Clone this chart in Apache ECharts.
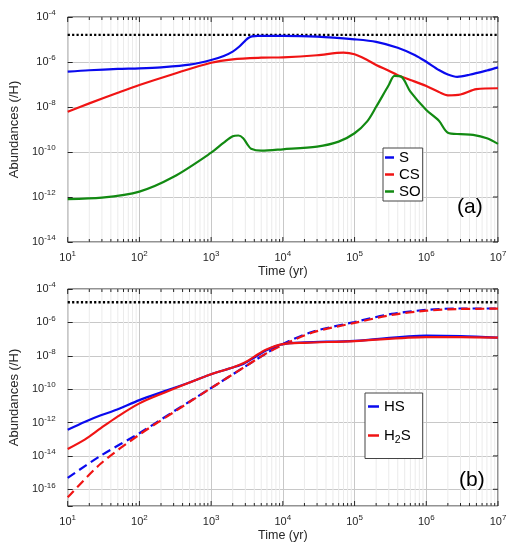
<!DOCTYPE html>
<html><head><meta charset="utf-8">
<script src="https://cdn.jsdelivr.net/npm/echarts@6/dist/echarts.min.js"></script>
<style>html,body{margin:0;padding:0;background:#fff}#c{width:510px;height:543px}</style>
</head><body><div id="c"></div>
<script>
// ---------- data (time in yr, abundances relative to H) ----------
const timeS  = [10, 20, 50, 100, 200, 500, 1000, 1500, 2000, 2500, 3000, 3300, 3700, 4500, 1e4, 3e4, 1e5, 2e5, 4e5, 7e5, 1e6, 1.5e6, 2e6, 2.7e6, 4e6, 7e6, 1e7];
const abundS = [3.7e-7, 4.3e-7, 4.9e-7, 5.2e-7, 5.8e-7, 7.6e-7, 1.23e-6, 1.86e-6, 2.9e-6, 5.0e-6, 8.9e-6, 1.17e-5, 1.38e-5, 1.45e-5, 1.45e-5, 1.35e-5, 1.02e-5, 7.9e-6, 4.3e-6, 2.0e-6, 1.02e-6, 4.4e-7, 2.8e-7, 2.2e-7, 2.7e-7, 4.2e-7, 5.8e-7];

const timeCS  = [10, 20, 50, 100, 300, 1000, 2000, 5000, 1e4, 3e4, 7e4, 1e5, 1.5e5, 2e5, 3e5, 4e5, 6e5, 1e6, 1.5e6, 2e6, 3e6, 5e6, 1e7];
const abundCS = [6.2e-9, 1.45e-8, 4.3e-8, 9.5e-8, 2.95e-7, 9.3e-7, 1.32e-6, 1.55e-6, 1.62e-6, 2.0e-6, 2.6e-6, 2.2e-6, 1.23e-6, 7.4e-7, 4.1e-7, 2.6e-7, 1.6e-7, 8.5e-8, 4.6e-8, 3.3e-8, 3.6e-8, 6.2e-8, 6.8e-8];

const timeSO  = [10, 30, 100, 300, 1000, 1500, 2000, 2400, 2800, 3200, 3600, 5000, 1e4, 3e4, 6e4, 1e5, 1.5e5, 2e5, 3e5, 3.6e5, 4.5e5, 6e5, 1e6, 1.5e6, 2e6, 3e6, 4.5e6, 7e6, 1e7];
const abundSO = [8.1e-13, 9.3e-13, 1.74e-12, 7.9e-12, 9.3e-11, 2.6e-10, 5.0e-10, 5.4e-10, 4.1e-10, 2.2e-10, 1.41e-10, 1.15e-10, 1.32e-10, 1.74e-10, 2.9e-10, 6.8e-10, 2.3e-9, 1.02e-8, 9.5e-8, 2.4e-7, 2.2e-7, 4.8e-8, 7.4e-9, 2.45e-9, 7.2e-10, 6.2e-10, 5.8e-10, 4.1e-10, 2.3e-10];

const timeHS  = [10, 17.5, 29, 49, 100, 226, 500, 1000, 2000, 2900, 4000, 5800, 1e4, 2e4, 1e5, 1e6, 3e6, 1e7];
const abundHS = [3.7e-13, 1.12e-12, 2.7e-12, 6.0e-12, 2.2e-11, 7.6e-11, 2.5e-10, 7.9e-10, 2.0e-9, 3.5e-9, 7.9e-9, 2.1e-8, 5.0e-8, 6.3e-8, 7.9e-8, 1.6e-7, 1.5e-7, 1.23e-7];

const timeH2S  = [10, 17.5, 29, 49, 100, 226, 500, 1000, 2000, 2900, 4000, 5800, 1e4, 2e4, 1e5, 1e6, 3e6, 1e7];
const abundH2S = [2.6e-14, 9.8e-14, 4.6e-13, 2.2e-12, 1.41e-11, 6.3e-11, 2.5e-10, 7.9e-10, 2.0e-9, 3.8e-9, 8.9e-9, 2.3e-8, 5.0e-8, 6.0e-8, 7.6e-8, 1.32e-7, 1.32e-7, 1.23e-7];

const timeHSice  = [10, 29, 100, 300, 1000, 2900, 5800, 1e4, 2.6e4, 1e5, 3.3e5, 1e6, 2.7e6, 1e7];
const abundHSice = [4.8e-16, 1.05e-14, 2.3e-13, 4.6e-12, 1.17e-10, 2.1e-9, 1.35e-8, 5.1e-8, 2.75e-7, 1.05e-6, 3.2e-6, 5.6e-6, 6.8e-6, 6.8e-6];

const timeH2Sice  = [10, 29, 100, 300, 1000, 2900, 5800, 1e4, 2.6e4, 1e5, 3.3e5, 1e6, 2.7e6, 1e7];
const abundH2Sice = [3.3e-17, 3.5e-15, 1.9e-13, 4.1e-12, 1.17e-10, 2.1e-9, 1.35e-8, 4.5e-8, 2.5e-7, 9.3e-7, 2.8e-6, 5.0e-6, 6.3e-6, 6.6e-6];

const totalSulfur = 1.6e-5;
const timeRange = [10, 1e7];
const xTickExps = [1, 2, 3, 4, 5, 6, 7];
const yRangeA = [-14, -4];
const yRangeB = [-17, -4];
const yTickExpsA = [-14, -12, -10, -8, -6, -4];
const yTickExpsB = [-16, -14, -12, -10, -8, -6, -4];
const legendA = ['S', 'CS', 'SO'];
const legendB = ['HS', 'H2S'];

// ---------- helpers ----------
const FONT = 'Liberation Sans';
const AX = '#262626';
const BLUE = '#0a0aee', RED = '#f01414', GREEN = '#128a12';
const lg = Math.log10;
const pts = (t, a) => t.map((v, i) => [lg(v), lg(a[i])]);

const supRich = {
  b: { fontSize: 11, color: AX, fontFamily: FONT },
  s: { fontSize: 8, color: AX, fontFamily: FONT, padding: [0, 0, 8, 0] }
};
const expLabel = v => '{b|10}{s|' + v + '}';

function xAxis(gi) {
  return {
    type: 'value', gridIndex: gi, min: xTickExps[0], max: xTickExps[xTickExps.length - 1], interval: 1,
    name: 'Time (yr)', nameLocation: 'middle', nameGap: 23,
    nameTextStyle: { fontSize: 12.5, color: AX, fontFamily: FONT },
    axisLine: { show: false }, axisTick: { show: false },
    axisLabel: { formatter: expLabel, rich: supRich, margin: 8 },
    splitLine: { show: true, lineStyle: { color: '#c8c8c8', width: 1 } }
  };
}
function yAxis(gi, range, interval, splitNumber) {
  const o = {
    type: 'value', gridIndex: gi, min: range[0], max: range[1],
    name: 'Abundances (/H)', nameLocation: 'middle', nameGap: 39, nameRotate: 90,
    nameTextStyle: { fontSize: 13, color: AX, fontFamily: FONT },
    axisLine: { show: false },
    axisTick: { show: true, inside: true, length: 5, lineStyle: { color: AX } },
    axisLabel: { formatter: v => (Math.round(v) % 2 === 0 ? expLabel(v) : ''), rich: supRich, margin: 12 },
    splitLine: { show: true, lineStyle: { color: '#c8c8c8', width: 1 } }
  };
  if (interval) o.interval = interval; else o.splitNumber = splitNumber;
  return o;
}

// minor (2..9) decade positions and edge ticks
function tickData(yTicks) {
  const d = [];
  for (let i = 0; i < xTickExps.length; i++) {
    d.push([xTickExps[i], 0]);
    if (i < xTickExps.length - 1) for (let k = 2; k <= 9; k++) d.push([xTickExps[i] + lg(k), 1]);
  }
  yTicks.forEach(y => d.push([y, 2]));
  return d;
}
function tickSeries(gi, yTicks) {
  return {
    type: 'custom', xAxisIndex: gi, yAxisIndex: gi, z: 1, silent: true,
    data: tickData(yTicks),
    renderItem: function (params, api) {
      const cs = params.coordSys;
      const kind = api.value(1);
      const st = { stroke: AX, lineWidth: 1 };
      if (kind === 2) {
        const y = api.coord([xTickExps[0], api.value(0)])[1];
        return { type: 'line', shape: { x1: cs.x + cs.width - 5, y1: y, x2: cs.x + cs.width, y2: y }, style: st };
      }
      const x = api.coord([api.value(0), 0])[0];
      const len = kind === 0 ? 5 : 3;
      const ch = [];
      if (kind === 1) ch.push({ type: 'line', shape: { x1: x, y1: cs.y, x2: x, y2: cs.y + cs.height }, style: { stroke: '#ebebeb', lineWidth: 1 } });
      ch.push({ type: 'line', shape: { x1: x, y1: cs.y + cs.height - len, x2: x, y2: cs.y + cs.height }, style: st });
      ch.push({ type: 'line', shape: { x1: x, y1: cs.y, x2: x, y2: cs.y + len }, style: st });
      return { type: 'group', children: ch };
    }
  };
}
function line(name, gi, data, color, dashed) {
  return {
    type: 'line', name: name, xAxisIndex: gi, yAxisIndex: gi, data: data, color: color,
    showSymbol: false, smooth: 0.3, z: 3,
    lineStyle: { color: color, width: 2.2, type: dashed ? [9, 5] : 'solid' }
  };
}
function dotted(name, gi) {
  return {
    type: 'line', name: name, xAxisIndex: gi, yAxisIndex: gi, showSymbol: false, z: 3,
    data: timeRange.map(t => [lg(t), lg(totalSulfur)]),
    lineStyle: { color: '#000', width: 2.4, type: [2.2, 2.2] }
  };
}

const legendRich = {
  t: { fontSize: 15, color: '#000', fontFamily: FONT },
  sub: { fontSize: 10.5, color: '#000', fontFamily: FONT, padding: [9, 0, 0, 0] }
};

const option = {
  animation: false,
  backgroundColor: '#fff',
  textStyle: { fontFamily: FONT },
  grid: [
    { left: 48.5, top: 17, width: 449.5, height: 225, show: true, borderColor: AX, borderWidth: 1, backgroundColor: 'transparent' },
    { left: 48.5, top: 289, width: 449.5, height: 224.3, show: true, borderColor: AX, borderWidth: 1, backgroundColor: 'transparent' }
  ],
  xAxis: [xAxis(0), xAxis(1)],
  yAxis: [yAxis(0, yRangeA, 2), yAxis(1, yRangeB, null, 6)],
  title: [
    { text: '(a)', left: 457, top: 197, padding: 0, textStyle: { fontSize: 21, fontWeight: 'normal', color: '#000', fontFamily: FONT } },
    { text: '(b)', left: 459, top: 470, padding: 0, textStyle: { fontSize: 21, fontWeight: 'normal', color: '#000', fontFamily: FONT } }
  ],
  legend: [
    {
      data: legendA, left: 383, top: 148, orient: 'vertical', icon: 'rect', itemWidth: 9, itemHeight: 2.5, itemGap: 0,
      padding: [1, 2, 1, 2], borderColor: '#444', borderWidth: 1, backgroundColor: '#fff',
      selectedMode: false,
      formatter: n => '{t|' + n + '}', textStyle: { rich: legendRich, lineHeight: 17 }
    },
    {
      data: legendB, left: 365, top: 393, orient: 'vertical', icon: 'rect', itemWidth: 11, itemHeight: 2.5, itemGap: 14,
      padding: [6, 12, 13, 3], borderColor: '#444', borderWidth: 1, backgroundColor: '#fff',
      selectedMode: false,
      formatter: n => n === 'H2S' ? '{t|H}{sub|2}{t|S}' : '{t|' + n + '}', textStyle: { rich: legendRich }
    }
  ],
  series: [
    tickSeries(0, yTickExpsA),
    tickSeries(1, yTickExpsB),
    dotted('Total S (a)', 0),
    dotted('Total S (b)', 1),
    line('S', 0, pts(timeS, abundS), BLUE),
    line('CS', 0, pts(timeCS, abundCS), RED),
    line('SO', 0, pts(timeSO, abundSO), GREEN),
    line('HS ice', 1, pts(timeHSice, abundHSice), BLUE, true),
    line('H2S ice', 1, pts(timeH2Sice, abundH2Sice), RED, true),
    line('HS', 1, pts(timeHS, abundHS), BLUE),
    line('H2S', 1, pts(timeH2S, abundH2S), RED)
  ]
};
const chart = echarts.init(document.getElementById('c'), null, { renderer: 'canvas', width: 510, height: 543 });
chart.setOption(option);
</script></body></html>
